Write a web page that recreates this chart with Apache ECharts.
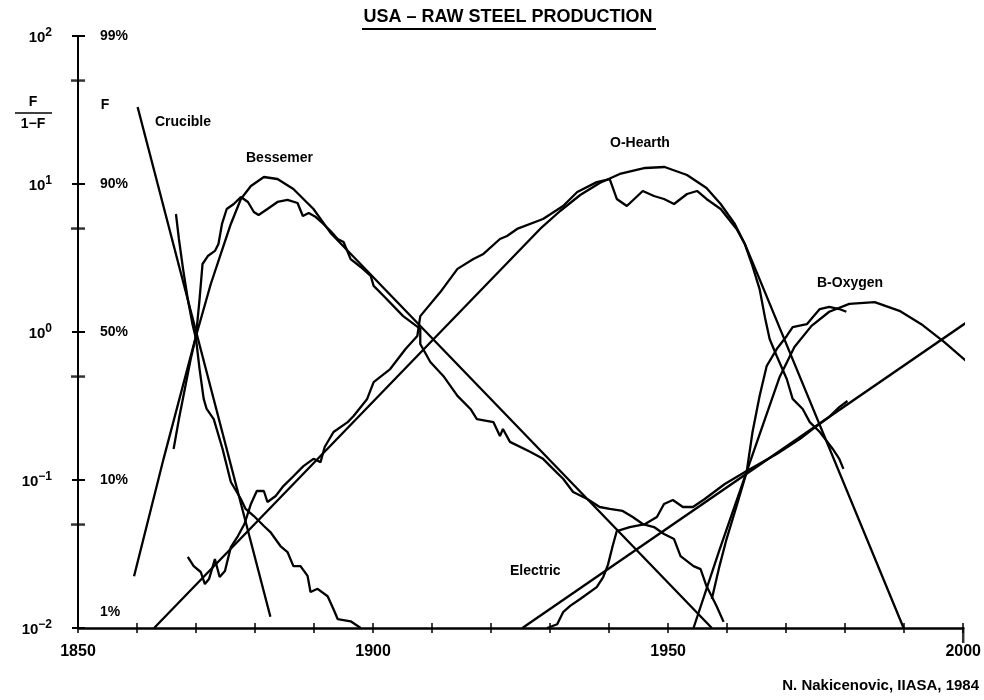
<!DOCTYPE html>
<html><head><meta charset="utf-8">
<script src="https://cdn.jsdelivr.net/npm/echarts@6/dist/echarts.min.js"></script>
<style>html,body{margin:0;padding:0;background:#fff}#c{width:984px;height:700px}</style>
</head><body><div id="c"></div>
<script>
// ---- axis labels ----
const yearLabels = [1850, 1900, 1950, 2000];
const pctByExp = { '-2': '1%', '-1': '10%', '0': '50%', '1': '90%', '2': '99%' };
const yMinorTicks = [0.05, 0.5, 5, 50];

// ---- series: [year, F/(1-F)] ----
const crucibleFit = [[1860.1, 33.1], [1882.6, 0.0119]];
const crucibleData = [[1866.6,6.27],[1867.1,4.25],[1867.8,2.67],[1868.6,1.67],[1869.4,1.13],[1870.0,0.897],[1870.6,0.562],[1871.3,0.353],[1871.8,0.302],[1873.0,0.258],[1874.5,0.162],[1875.9,0.0969],[1877.6,0.0744],[1878.4,0.0637],[1879.8,0.0571],[1881.5,0.0489],[1882.6,0.0445],[1884.3,0.0358],[1885.5,0.0326],[1886.5,0.0262],[1887.7,0.0262],[1888.9,0.0225],[1889.4,0.0175],[1890.6,0.0184],[1892.3,0.0164],[1893.3,0.0134],[1894.0,0.0115],[1896.2,0.0111],[1897.9,0.0100]];

const bessemerFit = [[1859.5,0.0224],[1864.5,0.139],[1870.0,0.940],[1872.5,2.11],[1874.2,3.37],[1875.9,5.37],[1877.6,7.92],[1879.3,9.69],[1881.5,11.15],[1883.8,10.81],[1886.5,9.25],[1889.9,6.78],[1892.8,4.67],[1957.4,0.0100]];
const bessemerData = [[1866.2,0.162],[1867.1,0.258],[1868.1,0.412],[1869.1,0.657],[1870.0,0.940],[1870.6,1.67],[1871.1,2.88],[1872.0,3.26],[1873.2,3.53],[1873.8,3.93],[1874.4,5.37],[1875.2,6.78],[1876.4,7.33],[1877.6,8.17],[1878.8,7.56],[1879.8,6.47],[1880.6,6.18],[1882.1,6.78],[1883.8,7.56],[1885.5,7.80],[1887.2,7.44],[1888.1,6.08],[1889.1,6.37],[1890.3,5.98],[1891.4,5.45],[1892.8,4.81],[1894.0,4.25],[1895.0,4.06],[1896.2,3.11],[1897.9,2.75],[1899.6,2.39],[1900.1,2.05],[1901.8,1.75],[1905.1,1.28],[1908.0,1.05],[1908.0,0.830],[1909.7,0.627],[1911.9,0.505],[1914.3,0.370],[1916.5,0.302],[1917.6,0.258],[1920.4,0.246],[1921.5,0.198],[1922.0,0.221],[1923.2,0.181],[1926.6,0.155],[1928.8,0.139],[1930.5,0.119],[1932.2,0.102],[1933.9,0.0830],[1936.3,0.0744],[1938.4,0.0657],[1940.1,0.0637],[1942.3,0.0618],[1944.0,0.0562],[1945.7,0.0504],[1947.6,0.0481],[1949.3,0.0432],[1951.0,0.0399],[1952.1,0.0306],[1954.3,0.0262],[1955.5,0.0250],[1956.5,0.0192],[1958.2,0.0141],[1959.4,0.0110]];

const ohearthFit = [[1862.9,0.0100],[1928.3,4.97],[1931.7,6.57],[1935.1,8.43],[1938.4,10.16],[1941.8,11.69],[1946.1,12.83],[1949.4,13.03],[1953.2,11.50],[1956.5,9.40],[1958.9,7.33],[1961.3,5.37],[1963.0,3.93],[1965.0,2.54],[1989.9,0.0100]];
const ohearthData = [[1868.6,0.0302],[1869.6,0.0262],[1870.8,0.0239],[1871.5,0.0198],[1872.2,0.0214],[1873.2,0.0292],[1874.0,0.0221],[1874.9,0.0243],[1875.9,0.0352],[1877.1,0.0418],[1878.2,0.0504],[1879.3,0.0689],[1880.3,0.0843],[1881.5,0.0843],[1882.1,0.0710],[1883.5,0.0780],[1884.8,0.0910],[1886.5,0.106],[1888.2,0.124],[1889.9,0.139],[1891.1,0.132],[1891.8,0.167],[1893.3,0.211],[1895.7,0.246],[1896.7,0.271],[1899.0,0.353],[1900.1,0.459],[1902.9,0.562],[1905.5,0.768],[1907.5,0.940],[1908.0,1.28],[1911.4,1.86],[1914.3,2.67],[1917.0,3.11],[1918.7,3.37],[1921.5,4.25],[1922.7,4.45],[1924.4,4.97],[1928.8,5.80],[1932.2,7.10],[1934.6,8.83],[1937.9,10.3],[1940.1,10.8],[1941.3,7.92],[1943.0,7.10],[1945.7,8.97],[1947.6,8.30],[1949.3,7.92],[1951.0,7.33],[1953.2,8.56],[1954.9,8.97],[1956.5,7.92],[1958.9,6.78],[1961.6,4.97],[1963.0,3.93],[1964.3,2.79],[1965.5,1.95],[1966.4,1.26],[1967.2,0.897],[1968.4,0.689],[1970.1,0.481],[1971.1,0.353],[1972.8,0.302],[1974.0,0.246],[1975.7,0.211],[1977.9,0.162],[1979.0,0.139],[1979.7,0.119]];

const electricFit = [[1925.3,0.0100],[2000.7,1.17]];
const electricData = [[1929.5,0.0100],[1931.2,0.0106],[1932.2,0.0128],[1933.4,0.0141],[1935.1,0.0157],[1937.9,0.0189],[1939.0,0.0221],[1939.8,0.0267],[1940.6,0.0358],[1941.3,0.0452],[1943.5,0.0481],[1946.1,0.0504],[1948.1,0.0562],[1949.3,0.0689],[1950.8,0.0733],[1952.5,0.0657],[1954.2,0.0657],[1956.2,0.0744],[1959.6,0.0940],[1963.3,0.115],[1968.4,0.150],[1972.3,0.189],[1974.5,0.221],[1977.3,0.267],[1979.0,0.311],[1980.4,0.342]];

const boxygenFit = [[1954.3,0.0100],[1958.7,0.0337],[1963.0,0.105],[1966.4,0.258],[1968.9,0.497],[1971.4,0.792],[1974.3,1.10],[1977.3,1.37],[1980.7,1.55],[1985.0,1.59],[1989.2,1.39],[1992.9,1.13],[1996.8,0.855],[2000.7,0.627]];
const boxygenData = [[1957.4,0.0157],[1958.7,0.0262],[1959.9,0.0399],[1961.6,0.0667],[1963.3,0.113],[1964.3,0.211],[1965.5,0.370],[1966.7,0.589],[1968.4,0.767],[1970.1,0.940],[1971.1,1.08],[1973.5,1.13],[1974.5,1.26],[1975.7,1.43],[1977.3,1.48],[1979.0,1.43],[1980.2,1.37]];

const FONT = "'Liberation Sans', Arial, sans-serif";
const K = '#000';

function ln(name, data, extra) {
  return Object.assign({
    name: name, type: 'line', data: data, symbol: 'none', showSymbol: false,
    lineStyle: { color: K, width: 2.3 }, itemStyle: { color: K },
    silent: true, z: 3
  }, extra || {});
}

function txt(x, y, text, size, align) {
  return { type: 'text', x: x, y: y, silent: true,
    style: { text: text, fill: K, font: 'bold ' + size + 'px ' + FONT,
      align: align || 'left', verticalAlign: 'middle' } };
}

const chart = echarts.init(document.getElementById('c'), null, { renderer: 'canvas' });
chart.setOption({
  animation: false,
  backgroundColor: '#fff',
  grid: { left: 78, right: 20, top: 36, bottom: 72 },
  xAxis: [
    { type: 'value', min: 1850, max: 2000, interval: 10, position: 'bottom',
      axisLine: { onZero: false, lineStyle: { color: K, width: 2.5 } },
      axisTick: { inside: false, length: 5, lineStyle: { color: K, width: 1.5 } },
      axisLabel: { margin: 16, color: K, fontFamily: FONT, fontWeight: 'bold', fontSize: 16,
        showMinLabel: true, showMaxLabel: true,
        formatter: function (v) { return yearLabels.indexOf(v) >= 0 ? String(v) : ''; } },
      splitLine: { show: false } },
    { type: 'value', min: 1850, max: 2000, interval: 10, position: 'bottom',
      axisLine: { show: false, onZero: false },
      axisTick: { inside: true, length: 5, lineStyle: { color: K, width: 1.5 } },
      axisLabel: { show: false }, splitLine: { show: false } }
  ],
  yAxis: [
    { type: 'log', logBase: 10, min: 0.01, max: 100, position: 'left',
      axisLine: { show: true, onZero: false, lineStyle: { color: K, width: 2 } },
      axisTick: { show: true, inside: false, length: 6, lineStyle: { color: K, width: 2 } },
      axisLabel: { margin: 26, color: K,
        formatter: function (v) {
          const e = Math.round(Math.log10(v));
          return '{b|10}{s|' + (e < 0 ? '\u2212' + (-e) : e) + '}';
        },
        rich: {
          b: { fontFamily: FONT, fontWeight: 'bold', fontSize: 15, color: K, lineHeight: 18, verticalAlign: 'bottom' },
          s: { fontFamily: FONT, fontWeight: 'bold', fontSize: 12, color: K, lineHeight: 18, verticalAlign: 'top' }
        } },
      splitLine: { show: false } },
    { type: 'log', logBase: 10, min: 0.01, max: 100, position: 'left',
      axisLine: { show: false, onZero: false },
      axisTick: { show: true, inside: true, length: 7, lineStyle: { color: K, width: 2 } },
      axisLabel: { inside: true, margin: 22, color: K,
        formatter: function (v) {
          const e = Math.round(Math.log10(v));
          return e === -2 ? '{lo|' + pctByExp[e] + '}' : '{n|' + pctByExp[e] + '}';
        },
        rich: {
          n: { fontFamily: FONT, fontWeight: 'bold', fontSize: 14, color: K },
          lo: { fontFamily: FONT, fontWeight: 'bold', fontSize: 14, color: K, padding: [0, 0, 32, 0] }
        } },
      splitLine: { show: false } }
  ],
  series: [
    ln('Crucible fit', crucibleFit),
    ln('Crucible', crucibleData),
    ln('Bessemer fit', bessemerFit),
    ln('Bessemer', bessemerData),
    ln('O-Hearth fit', ohearthFit),
    ln('O-Hearth', ohearthData),
    ln('Electric fit', electricFit, { clip: false }),
    ln('Electric', electricData),
    ln('B-Oxygen fit', boxygenFit, { clip: false }),
    ln('B-Oxygen', boxygenData),
    { name: 'minor ticks', type: 'scatter', data: yMinorTicks.map(function (v) { return [1850, v]; }),
      symbol: 'rect', symbolSize: [14, 2.5], itemStyle: { color: K }, clip: false, silent: true, z: 5 },
    { name: 'end tick', type: 'scatter', data: [[yearLabels[yearLabels.length - 1], 0.01]],
      symbol: 'rect', symbolSize: [2.5, 16], symbolOffset: [0, 7], itemStyle: { color: K }, clip: false, silent: true, z: 5 }
  ],
  graphic: [
    txt(508, 17, 'USA \u2013 RAW STEEL PRODUCTION', 18, 'center'),
    { type: 'line', silent: true, shape: { x1: 362, y1: 29, x2: 656, y2: 29 }, style: { stroke: K, lineWidth: 2 } },
    txt(33, 102, 'F', 14, 'center'),
    { type: 'line', silent: true, shape: { x1: 15, y1: 113, x2: 52, y2: 113 }, style: { stroke: K, lineWidth: 1.5 } },
    txt(33, 124, '1\u2212F', 14, 'center'),
    txt(105, 105, 'F', 14, 'center'),
    txt(155, 122, 'Crucible', 14),
    txt(246, 158, 'Bessemer', 14),
    txt(610, 143, 'O-Hearth', 14),
    txt(817, 283, 'B-Oxygen', 14),
    txt(510, 571, 'Electric', 14),
    txt(979, 686, 'N. Nakicenovic, IIASA, 1984', 15, 'right')
  ]
});
</script>
</body></html>
